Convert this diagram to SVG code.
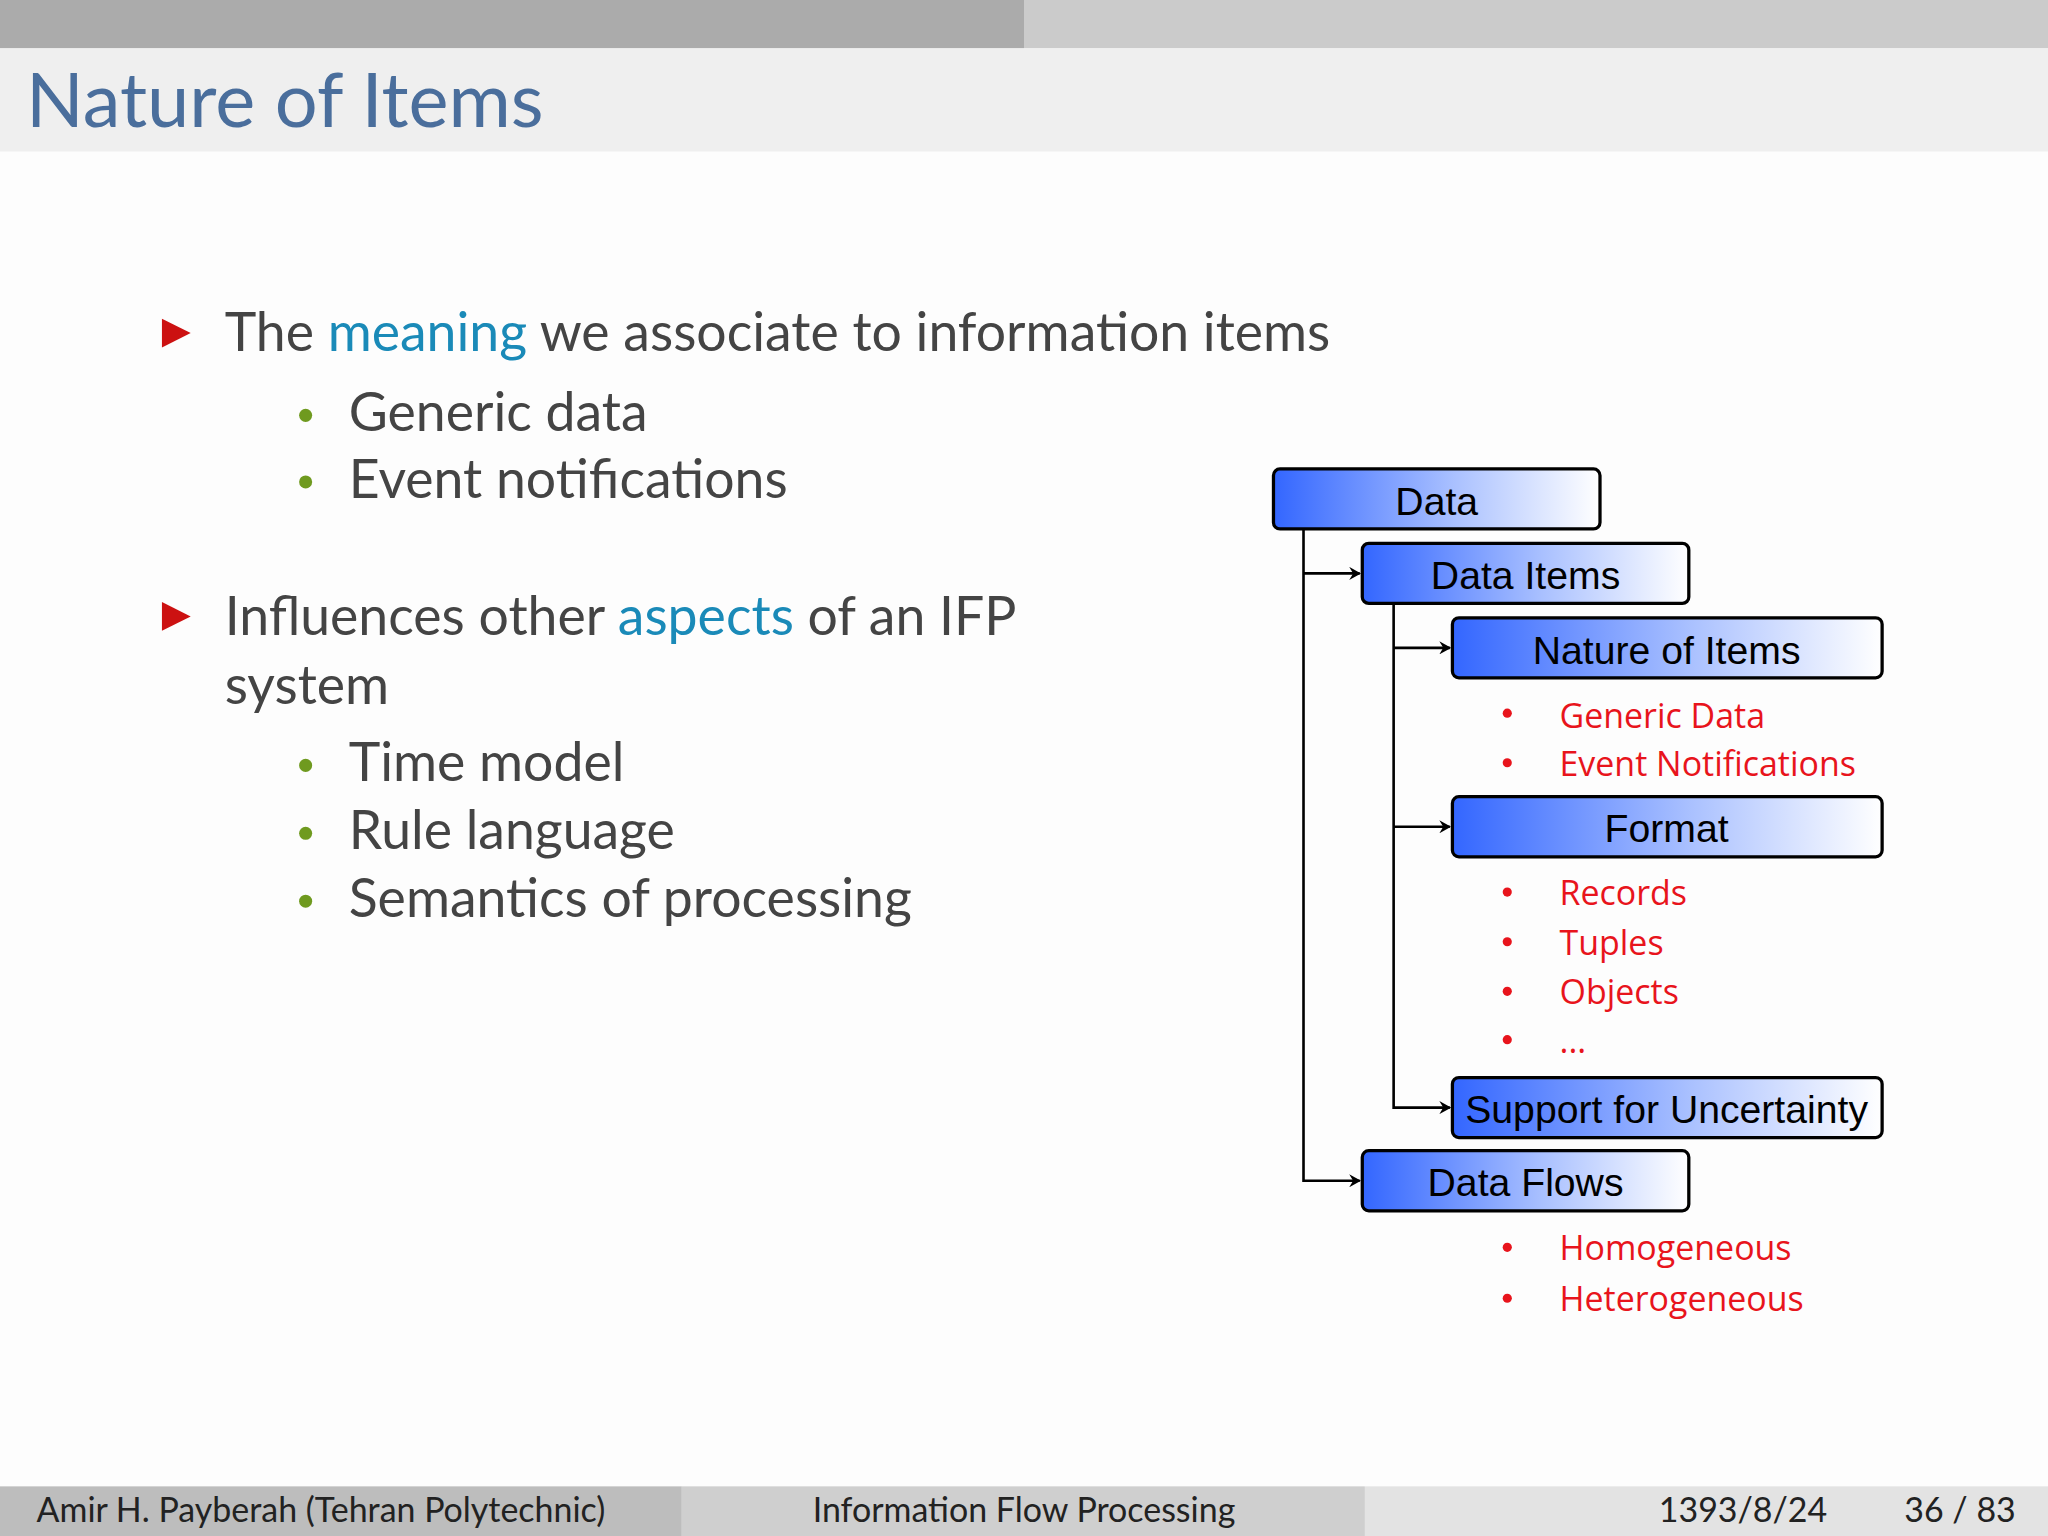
<svg xmlns="http://www.w3.org/2000/svg" width="2048" height="1536" viewBox="0 0 2048 1536">
<defs>
<linearGradient id="g" x1="0" y1="0" x2="1" y2="0"><stop offset="0" stop-color="#3366ff"/><stop offset="0.55" stop-color="#a9c0ff"/><stop offset="1" stop-color="#ffffff"/></linearGradient>
<marker id="ar" markerWidth="10" markerHeight="10" refX="9" refY="5" orient="auto" markerUnits="userSpaceOnUse"><path d="M1,0 L10,5 L1,10 L4,5 Z" fill="#000"/></marker>
<style>
.b{fill:url(#g);stroke:#000;stroke-width:2.5}
.bt{font-family:"Liberation Sans",Arial,sans-serif;font-size:30px;fill:#000;text-anchor:middle;font-stretch:condensed}
.r{font-family:"Open Sans","Noto Sans",sans-serif;font-size:26px;fill:#e8141c}
.m{font-family:"Lato","Noto Sans",sans-serif;font-size:41px;fill:#444}
.s{font-family:"Lato","Noto Sans",sans-serif;font-size:26px;fill:#222}
.c{stroke:#000;stroke-width:2;fill:none}
</style>
</defs>
<g transform="scale(1.306122)">
<rect width="1568" height="1176" fill="#fdfdfd"/>
<rect x="0" y="0" width="784" height="37" fill="#ababab"/>
<rect x="784" y="0" width="784" height="37" fill="#cbcbcb"/>
<rect x="0" y="37" width="1568" height="79" fill="#efefef"/>
<text x="20" y="97" font-family="Lato,'Noto Sans',sans-serif" font-size="58" fill="#4a6e9c">Nature of Items</text>

<path d="M124,244 L146,255 L124,266 Z" fill="#cc1111"/>
<text class="m" x="172" y="269">The <tspan fill="#1a8ab8">meaning</tspan> we associate to information items</text>
<circle cx="234" cy="318" r="5" fill="#6f9a1f"/><text class="m" x="267" y="330">Generic data</text>
<circle cx="234" cy="369" r="5" fill="#6f9a1f"/><text class="m" x="267" y="381">Event notifications</text>
<path d="M124,461 L146,472 L124,483 Z" fill="#cc1111"/>
<text class="m" x="172" y="486">Influences other <tspan fill="#1a8ab8">aspects</tspan> of an IFP</text>
<text class="m" x="172" y="539">system</text>
<circle cx="234" cy="586" r="5" fill="#6f9a1f"/><text class="m" x="267" y="598">Time model</text>
<circle cx="234" cy="638" r="5" fill="#6f9a1f"/><text class="m" x="267" y="650">Rule language</text>
<circle cx="234" cy="690" r="5" fill="#6f9a1f"/><text class="m" x="267" y="702">Semantics of processing</text>

<g id="connectors">
<path class="c" d="M998,405 V904 H1041" marker-end="url(#ar)"/>
<path class="c" d="M998,439 H1041" marker-end="url(#ar)"/>
<path class="c" d="M1067,462 V848 H1110" marker-end="url(#ar)"/>
<path class="c" d="M1067,496 H1110" marker-end="url(#ar)"/>
<path class="c" d="M1067,633 H1110" marker-end="url(#ar)"/>
</g>
<g id="data"><rect class="b" x="975" y="359" width="250" height="46" rx="5"/><text class="bt" x="1100" y="394">Data</text></g>
<g id="dataitems"><rect class="b" x="1043" y="416" width="250" height="46" rx="5"/><text class="bt" x="1168" y="451">Data Items</text></g>
<g id="nature"><rect class="b" x="1112" y="473" width="329" height="46" rx="5"/><text class="bt" x="1276" y="508">Nature of Items</text></g>
<g id="format"><rect class="b" x="1112" y="610" width="329" height="46" rx="5"/><text class="bt" x="1276" y="645">Format</text></g>
<g id="uncert"><rect class="b" x="1112" y="825" width="329" height="46" rx="5"/><text class="bt" x="1276" y="860">Support for Uncertainty</text></g>
<g id="flows"><rect class="b" x="1043" y="881" width="250" height="46" rx="5"/><text class="bt" x="1168" y="916">Data Flows</text></g>

<g id="lists" fill="#e8141c">
<circle cx="1154" cy="546" r="3.5"/><text class="r" x="1194" y="557">Generic Data</text>
<circle cx="1154" cy="584" r="3.5"/><text class="r" x="1194" y="594">Event Notifications</text>
<circle cx="1154" cy="683" r="3.5"/><text class="r" x="1194" y="693">Records</text>
<circle cx="1154" cy="721" r="3.5"/><text class="r" x="1194" y="731">Tuples</text>
<circle cx="1154" cy="759" r="3.5"/><text class="r" x="1194" y="769">Objects</text>
<circle cx="1154" cy="796" r="3.5"/><text class="r" x="1194" y="806">...</text>
<circle cx="1154" cy="955" r="3.5"/><text class="r" x="1194" y="965">Homogeneous</text>
<circle cx="1154" cy="994" r="3.5"/><text class="r" x="1194" y="1004">Heterogeneous</text>
</g>

<rect x="0" y="1138" width="522" height="38" fill="#bdbdbd"/>
<rect x="522" y="1138" width="523" height="38" fill="#cfcfcf"/>
<rect x="1045" y="1138" width="523" height="38" fill="#e3e3e3"/>
<text class="s" x="28" y="1165">Amir H. Payberah  (Tehran Polytechnic)</text>
<text class="s" x="784" y="1165" text-anchor="middle">Information Flow Processing</text>
<text class="s" x="1270" y="1165">1393/8/24</text>
<text class="s" x="1458" y="1165">36 / 83</text>
</g>
</svg>
